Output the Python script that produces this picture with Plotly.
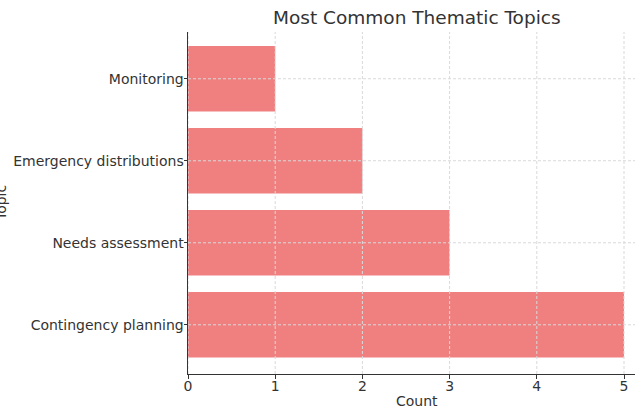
import plotly.graph_objects as go

topics = ["Contingency planning", "Needs assessment", "Emergency distributions", "Monitoring"]
counts = [5, 3, 2, 1]
x_ticks = [0, 1, 2, 3, 4, 5]

W, H = 635, 409
L, R, T, B = 188, 0, 32, 35
pw = W - L - R
ph = H - T - B
unit = 87.2  # px per count unit
xmax = pw / unit

def px2paper_x(px):
    return (px - L) / pw

def px2paper_y(py):
    return (H - B - py) / ph

txt = "#333333"
fnt = "DejaVu Sans"
grid_col = "#d9d9d9"

fig = go.Figure(go.Bar(
    x=counts, y=list(range(len(topics))), orientation="h",
    marker=dict(color="#F08080", line=dict(width=0)),
    width=0.8,
))

# gridlines drawn above bars (as in the reference)
shapes = []
for v in x_ticks:
    shapes.append(dict(type="line", xref="x", yref="paper", x0=v, x1=v, y0=0, y1=1,
                       layer="above", line=dict(color=grid_col, width=1, dash="3px,2px")))
for i in range(len(topics)):
    shapes.append(dict(type="line", xref="paper", yref="y", x0=0, x1=1, y0=i, y1=i,
                       layer="above", line=dict(color=grid_col, width=1, dash="3px,2px")))

fig.update_layout(
    width=W, height=H, autosize=False,
    margin=dict(l=L, r=R, t=T, b=B, pad=0),
    paper_bgcolor="white", plot_bgcolor="white",
    font=dict(family=fnt, size=14, color=txt),
    showlegend=False,
    shapes=shapes,
    xaxis=dict(
        range=[0, xmax], tickvals=x_ticks, ticktext=[str(v) for v in x_ticks],
        showgrid=False,
        showline=True, linecolor="#333333", linewidth=1,
        ticks="outside", ticklen=3.5, tickcolor="#333333",
        zeroline=False, layer="above traces", ticklabelstandoff=-4,
        tickfont=dict(family=fnt, size=14, color=txt),
    ),
    yaxis=dict(
        range=[-0.6, 3.57], tickvals=list(range(len(topics))), ticktext=topics,
        showgrid=False,
        showline=True, linecolor="#333333", linewidth=1,
        ticks="outside", ticklen=3.5, tickcolor="#333333",
        zeroline=False, layer="above traces", ticklabelstandoff=-3,
        tickfont=dict(family=fnt, size=14, color=txt),
    ),
    annotations=[
        dict(text="Most Common Thematic Topics", xref="paper", yref="paper",
             x=px2paper_x(417), y=px2paper_y(18), xanchor="center", yanchor="middle",
             showarrow=False, font=dict(family=fnt, size=18.5, color=txt)),
        dict(text="Count", xref="paper", yref="paper",
             x=px2paper_x(417), y=px2paper_y(401), xanchor="center", yanchor="middle",
             showarrow=False, font=dict(family=fnt, size=14, color=txt)),
        dict(text="Topic", xref="paper", yref="paper", textangle=-90,
             x=px2paper_x(1), y=px2paper_y(203), xanchor="center", yanchor="middle",
             showarrow=False, font=dict(family=fnt, size=14, color=txt)),
    ],
)

fig.write_html("out.html", config={"displayModeBar": False},
               post_script="document.body.style.margin='0';")
